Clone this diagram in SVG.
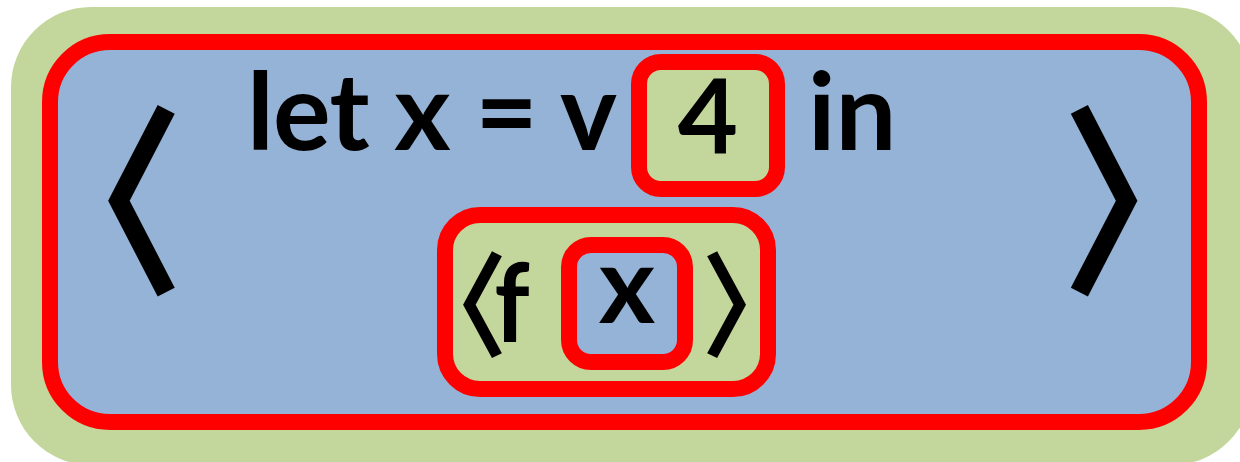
<svg xmlns="http://www.w3.org/2000/svg" width="1240" height="462" viewBox="0 0 1240 462">
<style>
.t{font-family:Lato,"Open Sans",sans-serif;font-weight:bold;fill:#000}
.br{font-family:"Noto Sans CJK JP","Noto Sans CJK SC",sans-serif;font-weight:bold;fill:#000;text-anchor:middle}
.red{stroke:#FF0000;stroke-width:16}
.g{fill:#C3D69B}
.b{fill:#95B3D7}
</style>
<g id="outer">
<rect x="11" y="7" width="1241" height="458" rx="80" class="g"/>
</g>
<g id="frame">
<rect x="50" y="42" width="1149" height="380" rx="60" class="b red"/>
<text class="br" transform="translate(141 278) scale(0.85 1)" x="-51" y="0" font-size="203">〈</text>
<text class="br" transform="translate(1104.5 278) scale(0.85 1)" x="51" y="0" font-size="203">〉</text>
</g>
<g id="let-line">
<text class="t" x="247" y="150" font-size="108" textLength="370" lengthAdjust="spacing">let x = v</text>
<text class="t" x="808" y="150" font-size="108">in</text>
</g>
<g id="box-4">
<rect x="639" y="62" width="138" height="127" rx="22" class="g red"/>
<text class="t" x="708" y="153" font-size="104" text-anchor="middle">4</text>
</g>
<g id="box-fx">
<rect x="445" y="215" width="323" height="174" rx="35" class="g red"/>
<text class="br" transform="translate(482 0) scale(0.89 1)"><tspan x="-28" y="347" font-size="113">〈</tspan><tspan class="t" x="14" y="342" font-size="110" style="text-anchor:start">f</tspan></text>
<text class="br" transform="translate(727 347) scale(0.89 1)" x="28" y="0" font-size="113">〉</text>
</g>
<g id="box-x">
<rect x="569" y="245" width="116" height="117" rx="22" class="b red"/>
<text class="t" x="627" y="323" font-size="108" text-anchor="middle">x</text>
</g>
</svg>
